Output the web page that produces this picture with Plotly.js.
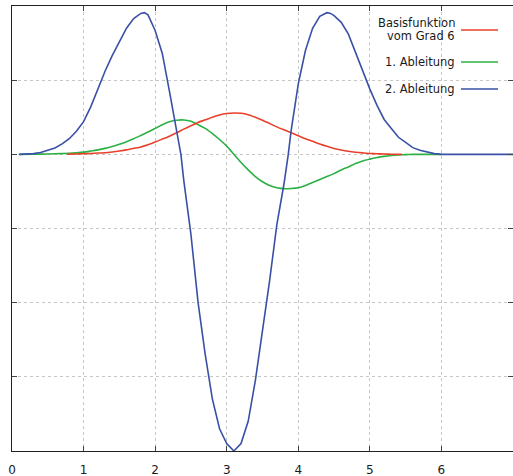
<!DOCTYPE html>
<html>
<head>
<meta charset="utf-8">
<script src="https://cdn.plot.ly/plotly-3.0.1.min.js"></script>
<style>html,body{margin:0;padding:0;background:#fff;}#chart{width:513px;height:476px;}</style>
</head>
<body>
<div id="chart"></div>
<script>
// Basis function of degree 6 (red)
const xBasis = [0.77,0.9,1.0,1.1,1.2,1.3,1.4,1.5,1.6,1.7,1.8,1.9,2.0,2.1,2.2,2.3,2.4,2.5,2.6,2.7,2.8,2.9,3.0,3.1,3.2,3.3,3.4,3.5,3.6,3.7,3.8,3.9,4.0,4.1,4.2,4.3,4.4,4.5,4.6,4.7,4.8,4.9,5.0,5.1,5.2,5.3,5.45];
const yBasis = [0.003,0.005,0.008,0.012,0.017,0.022,0.032,0.045,0.06,0.08,0.1,0.13,0.165,0.205,0.245,0.29,0.34,0.385,0.43,0.465,0.5,0.53,0.55,0.558,0.553,0.535,0.5,0.46,0.415,0.37,0.33,0.29,0.25,0.21,0.175,0.14,0.108,0.08,0.058,0.041,0.029,0.02,0.012,0.008,0.004,0.002,0.0];

// First derivative (green)
const xDeriv1 = [0.1,0.3,0.5,0.7,0.8,0.9,1.0,1.1,1.2,1.3,1.4,1.5,1.6,1.7,1.8,1.9,2.0,2.1,2.2,2.3,2.4,2.5,2.6,2.7,2.8,2.9,3.0,3.1,3.2,3.3,3.4,3.5,3.6,3.7,3.8,3.9,4.0,4.1,4.2,4.3,4.4,4.5,4.6,4.7,4.8,4.9,5.0,5.1,5.2,5.3,5.4,5.5,5.6,5.8,6.0];
const yDeriv1 = [0.0,0.002,0.005,0.01,0.013,0.02,0.03,0.045,0.06,0.08,0.105,0.135,0.17,0.21,0.255,0.3,0.35,0.4,0.44,0.46,0.463,0.445,0.4,0.35,0.28,0.2,0.11,0.0,-0.11,-0.21,-0.3,-0.37,-0.42,-0.45,-0.463,-0.46,-0.45,-0.42,-0.38,-0.34,-0.3,-0.26,-0.21,-0.17,-0.125,-0.09,-0.065,-0.042,-0.027,-0.015,-0.008,-0.004,-0.001,0.0,0.0];

// Second derivative (blue)
const xDeriv2 = [0.1,0.2,0.3,0.4,0.5,0.6,0.7,0.8,0.9,1.0,1.1,1.2,1.3,1.4,1.5,1.6,1.7,1.8,1.85,1.9,2.0,2.1,2.2,2.3,2.36,2.4,2.5,2.6,2.7,2.8,2.9,3.0,3.1,3.2,3.3,3.4,3.5,3.6,3.7,3.8,3.86,3.9,4.0,4.1,4.2,4.3,4.4,4.45,4.5,4.6,4.7,4.8,4.9,5.0,5.1,5.2,5.3,5.4,5.5,5.6,5.7,5.8,5.9,6.0,7.0];
const yDeriv2 = [0.0,0.003,0.01,0.025,0.05,0.085,0.14,0.21,0.31,0.44,0.64,0.88,1.12,1.33,1.52,1.7,1.83,1.9,1.91,1.88,1.67,1.36,0.85,0.34,0.0,-0.35,-1.08,-2.0,-2.7,-3.3,-3.7,-3.9,-4.0,-3.9,-3.6,-3.05,-2.4,-1.7,-0.95,-0.4,0.0,0.32,0.95,1.4,1.7,1.86,1.91,1.9,1.87,1.78,1.62,1.37,1.12,0.88,0.66,0.47,0.35,0.23,0.16,0.09,0.055,0.03,0.01,0.0,0.0];

const legendLabels = ["Basisfunktion", "vom Grad 6", "1. Ableitung", "2. Ableitung"];
const xTicks = [0,1,2,3,4,5,6,7];
const yTicks = [-4,-3,-2,-1,0,1,2];

const colors = {basis: '#e8402a', d1: '#2cb044', d2: '#3a50a6'};

const traces = [
  {x: xDeriv1, y: yDeriv1, mode: 'lines', line: {color: colors.d1, width: 1.6, shape: 'spline', smoothing: 0.5}, hoverinfo: 'skip'},
  {x: xBasis, y: yBasis, mode: 'lines', line: {color: colors.basis, width: 1.6, shape: 'spline', smoothing: 0.5}, hoverinfo: 'skip'},
  {x: xDeriv2, y: yDeriv2, mode: 'lines', line: {color: colors.d2, width: 1.6}, hoverinfo: 'skip'}
];

// pixel helpers for legend placement (plot area: l=12, t=6, w=501, h=445)
const px = p => (p - 12) / 501;
const py = p => (451 - p) / 445;

const font = {family: 'DejaVu Sans, sans-serif', size: 11.5, color: '#1a1a1a'};

const annotations = [
  {text: legendLabels[0], x: px(457), y: py(23), xref: 'paper', yref: 'paper', xanchor: 'right', yanchor: 'middle', showarrow: false, font: font},
  {text: legendLabels[1], x: px(457), y: py(36), xref: 'paper', yref: 'paper', xanchor: 'right', yanchor: 'middle', showarrow: false, font: font},
  {text: legendLabels[2], x: px(457), y: py(62), xref: 'paper', yref: 'paper', xanchor: 'right', yanchor: 'middle', showarrow: false, font: font},
  {text: legendLabels[3], x: px(457), y: py(89), xref: 'paper', yref: 'paper', xanchor: 'right', yanchor: 'middle', showarrow: false, font: font}
];
const shapes = [
  {type: 'line', xref: 'paper', yref: 'paper', x0: px(461), x1: px(498), y0: py(30), y1: py(30), line: {color: colors.basis, width: 1.5}},
  {type: 'line', xref: 'paper', yref: 'paper', x0: px(461), x1: px(498), y0: py(62), y1: py(62), line: {color: colors.d1, width: 1.5}},
  {type: 'line', xref: 'paper', yref: 'paper', x0: px(461), x1: px(498), y0: py(89), y1: py(89), line: {color: colors.d2, width: 1.5}}
];

const layout = {
  width: 513, height: 476,
  margin: {l: 12, r: 0, t: 6, b: 25, pad: 0},
  paper_bgcolor: '#ffffff', plot_bgcolor: '#ffffff',
  showlegend: false,
  font: font,
  xaxis: {
    range: [0, 7], tickvals: xTicks, ticktext: xTicks.map(String),
    showgrid: true, gridcolor: '#c6c6c6', griddash: 'dot', gridwidth: 1,
    zeroline: false, showline: true, linecolor: '#222', linewidth: 1.2,
    mirror: 'ticks', ticks: 'inside', ticklen: 5, tickcolor: '#444', tickwidth: 1,
    tickfont: {family: 'DejaVu Sans, sans-serif', size: 12, color: '#1a1a1a'},
    ticklabelstandoff: 7
  },
  yaxis: {
    range: [-4, 2], tickvals: yTicks, showticklabels: false,
    showgrid: true, gridcolor: '#c6c6c6', griddash: 'dot', gridwidth: 1,
    zeroline: false, showline: true, linecolor: '#222', linewidth: 1.2,
    mirror: 'ticks', ticks: 'inside', ticklen: 5, tickcolor: '#444', tickwidth: 1
  },
  annotations: annotations,
  shapes: shapes
};

Plotly.newPlot('chart', traces, layout, {staticPlot: true, displayModeBar: false});
</script>
</body>
</html>
